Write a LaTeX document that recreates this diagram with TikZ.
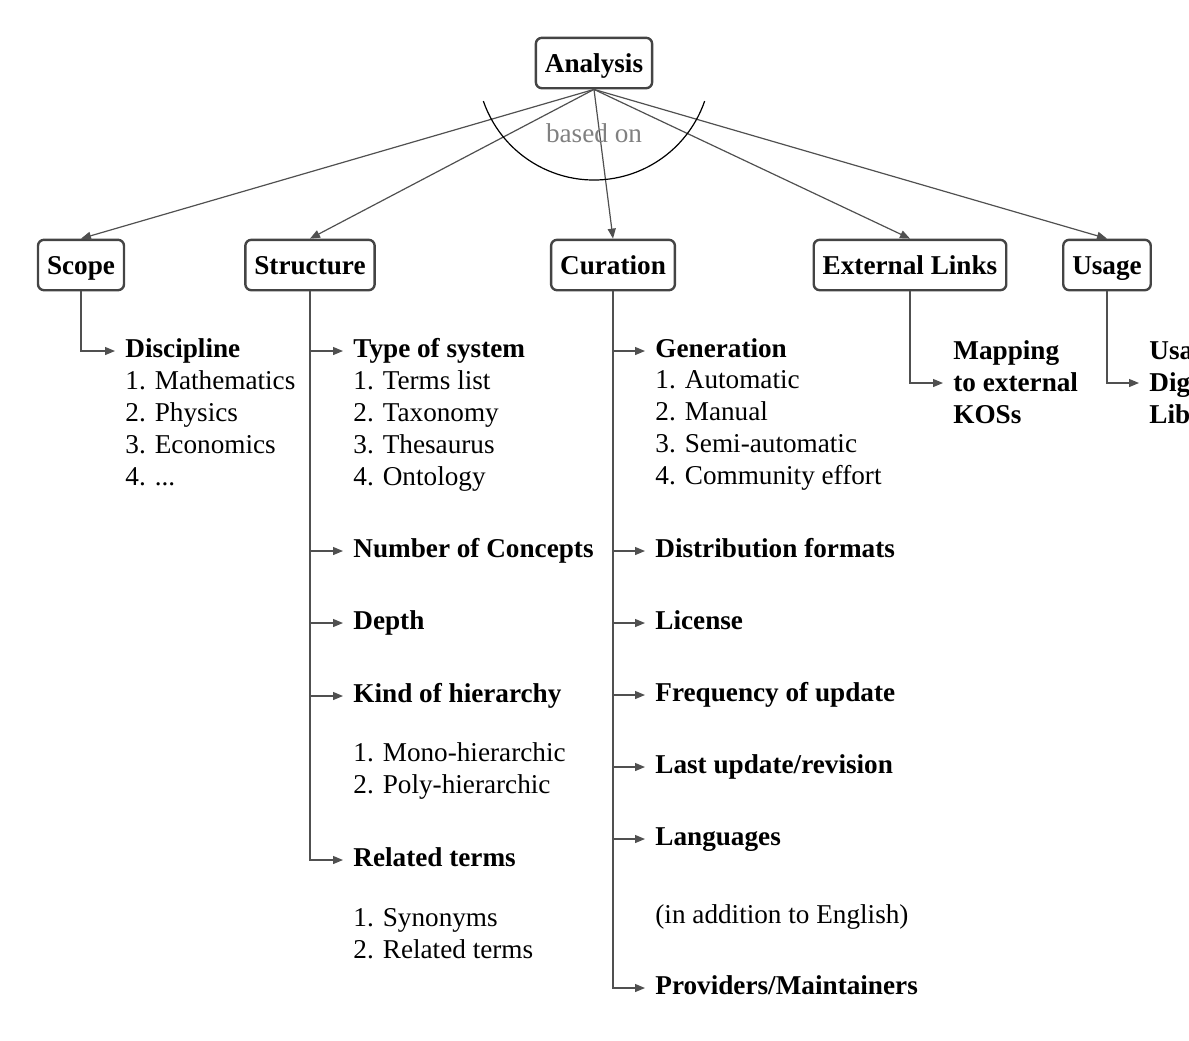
\documentclass[tikz,border=0pt]{standalone}
\usepackage{fontspec}
\setmainfont{Liberation Serif}
\usetikzlibrary{arrows.meta, positioning}
\definecolor{boxgray}{RGB}{68,68,68}
\definecolor{linegray}{RGB}{80,80,80}
\definecolor{labelgray}{RGB}{128,128,128}
\newcommand{\diagfont}{\fontsize{13.6}{16}\selectfont}
\tikzset{
  block/.style={
    draw=boxgray,
    line width=1.2pt,
    rounded corners=3pt,
    inner xsep=4.5pt,
    inner ysep=4.6pt,
    text height=12.7pt,
    text depth=3.3pt,
    font=\diagfont\bfseries
  },
  head/.style={anchor=west, inner xsep=5pt, inner ysep=0pt, align=left,
    font=\diagfont\bfseries, execute at begin node=\strut, execute at end node=\strut},
  items/.style={inner xsep=5pt, inner ysep=0pt, align=left,
    font=\diagfont, execute at begin node=\strut},
  arrow/.style={-{Triangle[length=5pt, width=4pt]}, line width=0.6pt, draw=linegray},
  note/.style={font=\diagfont, text=labelgray}
}

\begin{document}
\begin{tikzpicture}[x=0.5pt, y=0.5pt]
  \path[use as bounding box, clip] (0,0) rectangle (1189,-1040);

  % top level
  \node[block] (analysis) at (594,-63) {Analysis};
  \node[block] (scope) at (81,-265) {Scope};
  \node[block] (structure) at (310,-265) {Structure};
  \node[block] (curation) at (613,-265) {Curation};
  \node[block] (extlinks) at (910,-265) {External Links};
  \node[block] (usage) at (1107,-265) {Usage};

  \foreach \c in {scope,structure,curation,extlinks,usage}
    \draw[arrow] (analysis.south) -- (\c.north);

  \draw[line width=0.6pt] (analysis.center) ++(199:117) arc[start angle=199, end angle=341, radius=117];
  \node[note] (basedon) at (594,-133) {based on};

  % scope
  \node[head] (discipline) at (115,-351) {Discipline};
  \node[items, below right=1.5pt and 0pt of discipline.south west] (disciplinelist)
    {1. Mathematics\\2. Physics\\3. Economics\\4. ...};

  % structure
  \node[head] (typesys) at (343,-351) {Type of system};
  \node[items, below right=1.5pt and 0pt of typesys.south west] (typesyslist)
    {1. Terms list\\2. Taxonomy\\3. Thesaurus\\4. Ontology};
  \node[head] (numconcepts) at (343,-551) {Number of Concepts};
  \node[head] (depth) at (343,-623) {Depth};
  \node[head] (hierarchy) at (343,-696) {Kind of hierarchy};
  \node[items, below right=15pt and 0pt of hierarchy.south west] (hierarchylist)
    {1. Mono-hierarchic\\2. Poly-hierarchic};
  \node[head] (related) at (343,-860) {Related terms};
  \node[items, below right=15.8pt and 0pt of related.south west] (relatedlist)
    {1. Synonyms\\2. Related terms};

  % curation
  \node[head] (generation) at (645,-351) {Generation};
  \node[items, below right=1.5pt and 0pt of generation.south west] (generationlist)
    {1. Automatic\\2. Manual\\3. Semi-automatic\\4. Community effort};
  \node[head] (distribution) at (645,-551) {Distribution formats};
  \node[head] (license) at (645,-623) {License};
  \node[head] (frequency) at (645,-695) {Frequency of update};
  \node[head] (lastupdate) at (645,-767) {Last update/revision};
  \node[head] (languages) at (645,-839) {Languages};
  \node[items, below right=22.8pt and 0pt of languages.south west] (languagesnote)
    {(in addition to English)};
  \node[head] (providers) at (645,-988) {Providers/Maintainers};

  % external links, usage
  \node[head, yshift=-2pt] (mapping) at (943,-383) {Mapping\\to external\\KOSs};
  \node[head, yshift=-2pt] (usagedl) at (1139,-383) {Usage in\\Digital\\Libraries};

  \draw[arrow] (scope.south) |- (discipline.west);
  \foreach \h in {typesys,numconcepts,depth,hierarchy,related}
    \draw[arrow] (structure.south) |- (\h.west);
  \foreach \h in {generation,distribution,license,frequency,lastupdate,languages,providers}
    \draw[arrow] (curation.south) |- (\h.west);
  \draw[arrow] (extlinks.south) |- ([yshift=2pt]mapping.west);
  \draw[arrow] (usage.south) |- ([yshift=2pt]usagedl.west);
\end{tikzpicture}
\end{document}
